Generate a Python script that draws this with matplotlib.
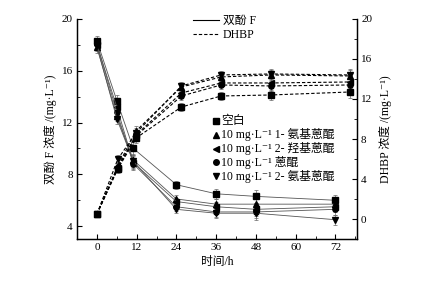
import matplotlib
matplotlib.use("Agg")
import matplotlib.pyplot as plt
from matplotlib.lines import Line2D
from matplotlib.ticker import MultipleLocator

plt.rcParams['font.family'] = ['Liberation Serif', 'Noto Sans CJK SC', 'DejaVu Sans']

# ---- data ----
groups = ['空白', '10 mg·L⁻¹ 1- 氨基蒽醌', '10 mg·L⁻¹ 2- 羟基蒽醌',
          '10 mg·L⁻¹ 蒽醌', '10 mg·L⁻¹ 2- 氨基蒽醌']
markers = ['s', '^', '<', 'o', 'v']

bpf_time = [0, 6, 11, 24, 36, 48, 72]
dhbp_time = [0, 6.3, 11.8, 25.5, 37.5, 52.5, 76.5]

bpf_blank = [18.3, 13.7, 10.0, 7.2, 6.5, 6.3, 6.0]
bpf_1aaq = [17.8, 12.5, 9.1, 6.1, 5.7, 5.7, 5.7]
bpf_2haq = [18.0, 13.2, 8.9, 5.9, 5.5, 5.3, 5.5]
bpf_aq = [18.1, 12.8, 8.8, 5.5, 5.1, 5.1, 5.3]
bpf_2aaq = [17.9, 12.3, 9.0, 5.3, 5.0, 5.0, 4.5]
bpf_err = [0.4, 0.4, 0.5, 0.3, 0.4, 0.5, 0.4]

dhbp_blank = [0.5, 5.0, 8.1, 11.2, 12.3, 12.4, 12.7]
dhbp_1aaq = [0.5, 5.3, 8.8, 13.2, 14.2, 14.4, 14.3]
dhbp_2haq = [0.5, 5.1, 8.4, 12.6, 13.6, 13.6, 13.7]
dhbp_aq = [0.5, 5.2, 8.3, 12.3, 13.4, 13.3, 13.4]
dhbp_2aaq = [0.5, 6.0, 8.6, 13.3, 14.4, 14.5, 14.4]
dhbp_err = [0.3, 0.4, 0.5, 0.4, 0.4, 0.5, 0.6]

bpf_series = [bpf_blank, bpf_1aaq, bpf_2haq, bpf_aq, bpf_2aaq]
dhbp_series = [dhbp_blank, dhbp_1aaq, dhbp_2haq, dhbp_aq, dhbp_2aaq]

fs = 8.5
tfs = 8
W, H = 428, 282
fig = plt.figure(figsize=(W / 100, H / 100), dpi=100)
ax = fig.add_axes([0.180, 0.152, 0.654, 0.781])
ax2 = ax.twinx()

for vals, m in zip(bpf_series, markers):
    ax.errorbar(bpf_time, vals, yerr=bpf_err, color='#555555', lw=0.6,
                marker=m, ms=3.8, mfc='black', mec='black',
                ecolor='#666666', elinewidth=0.5, capsize=1.5, capthick=0.5)

for vals, m in zip(dhbp_series, markers):
    ax2.errorbar(dhbp_time, vals, yerr=dhbp_err, color='black', lw=0.8,
                 ls=(0, (3, 1.8)), marker=m, ms=3.8, mfc='black', mec='black',
                 ecolor='#666666', elinewidth=0.5, capsize=1.5, capthick=0.5)

ax.set_xlim(-6, 78.5)
ax.set_ylim(3, 20)
ax2.set_ylim(-2, 20)

ax.xaxis.set_major_locator(MultipleLocator(12))
ax.xaxis.set_minor_locator(MultipleLocator(6))
ax.yaxis.set_major_locator(MultipleLocator(4))
ax.yaxis.set_minor_locator(MultipleLocator(2))
ax2.yaxis.set_major_locator(MultipleLocator(4))
ax2.yaxis.set_minor_locator(MultipleLocator(2))

for a in (ax, ax2):
    a.spines['top'].set_visible(False)
    for s in a.spines.values():
        s.set_linewidth(0.9)
    a.tick_params(which='major', direction='in', length=3.5, width=0.8,
                  labelsize=tfs, pad=3)
    a.tick_params(which='minor', direction='in', length=2, width=0.6)
ax.tick_params(axis='x', which='both', top=False)

ax.set_xlabel('时间/h', fontsize=fs, labelpad=3)
ax.set_ylabel('双酚 F 浓度 /(mg·L⁻¹)', fontsize=fs, labelpad=3)
ax2.set_ylabel('DHBP 浓度 /(mg·L⁻¹)', fontsize=fs, labelpad=5, rotation=90)

line_handles = [Line2D([], [], color='black', lw=0.8),
                Line2D([], [], color='black', lw=0.8, ls=(0, (3, 1.8)))]
fig.legend(line_handles, ['双酚 F', 'DHBP'], loc='upper left',
           bbox_to_anchor=(193 / W, 1 - 15 / H), frameon=False, fontsize=fs,
           handlelength=2.2, handletextpad=0.35, labelspacing=0.2,
           borderpad=0, borderaxespad=0)

# marker legend, rows placed by hand
x_mk, x_tx, y0, dy = 216, 221, 121, 13.8
for i, (m, lab) in enumerate(zip(markers, groups)):
    yy = 1 - (y0 + dy * i) / H
    fig.add_artist(Line2D([x_mk / W], [yy], transform=fig.transFigure,
                          ls='none', marker=m, ms=4, color='black'))
    fig.text(x_tx / W, yy, lab, fontsize=fs, va='center', ha='left')

fig.savefig('out.png', dpi=100)
